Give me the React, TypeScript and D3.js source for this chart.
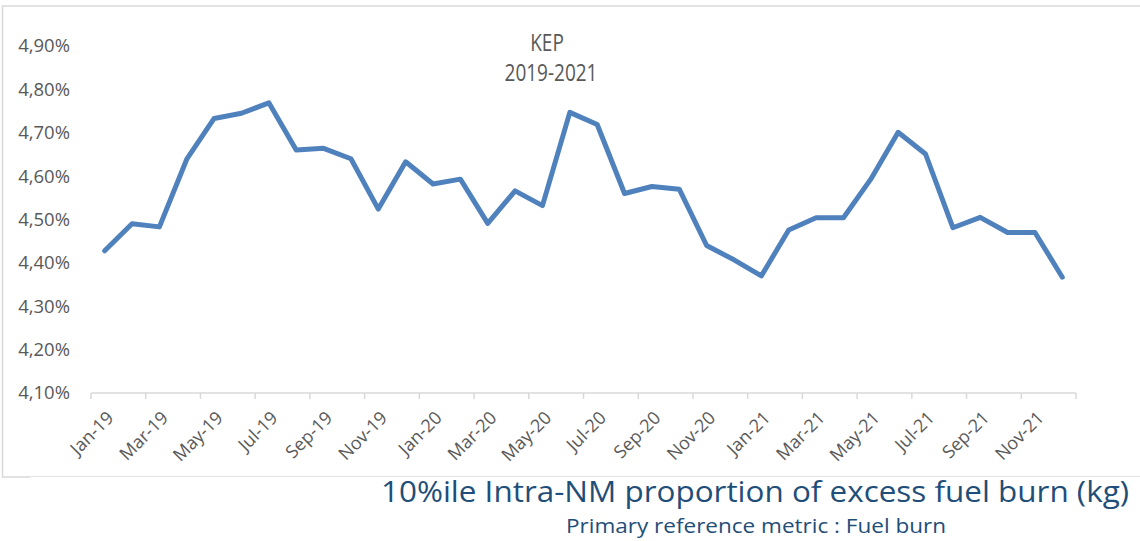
import React from "react";
import * as d3 from "d3";

const months = [
  "Jan-19","Feb-19","Mar-19","Apr-19","May-19","Jun-19","Jul-19","Aug-19","Sep-19","Oct-19","Nov-19","Dec-19",
  "Jan-20","Feb-20","Mar-20","Apr-20","May-20","Jun-20","Jul-20","Aug-20","Sep-20","Oct-20","Nov-20","Dec-20",
  "Jan-21","Feb-21","Mar-21","Apr-21","May-21","Jun-21","Jul-21","Aug-21","Sep-21","Oct-21","Nov-21","Dec-21",
];
const values = [
  4.428, 4.490, 4.483, 4.639, 4.733, 4.745, 4.769, 4.660, 4.664, 4.640, 4.524, 4.633,
  4.582, 4.593, 4.491, 4.566, 4.532, 4.747, 4.719, 4.560, 4.576, 4.570, 4.440, 4.407,
  4.370, 4.476, 4.504, 4.504, 4.593, 4.701, 4.651, 4.481, 4.505, 4.470, 4.470, 4.367,
];
const yTicks = [4.1, 4.2, 4.3, 4.4, 4.5, 4.6, 4.7, 4.8, 4.9];
const chartTitle = "KEP";
const chartSubtitle = "2019-2021";
const footerTitle = "10%ile Intra-NM proportion of excess fuel burn (kg)";
const footerSubtitle = "Primary reference metric : Fuel burn";

const W = 1140;
const H = 541;
const FONT = "'Open Sans', 'Liberation Sans', sans-serif";

export default function App() {
  const x = d3.scaleBand<string>().domain(months).range([91, 1076]).padding(0);
  const y = d3.scaleLinear().domain([4.1, 4.9]).range([393, 46]);
  const bw = x.bandwidth();
  const cx = (m: string) => (x(m) as number) + bw / 2;
  const line = d3
    .line<number>()
    .x((_, i) => cx(months[i]))
    .y((v) => y(v));
  const fmt = (v: number) => d3.format(".2f")(v).replace(".", ",") + "%";
  const tickIdx = d3.range(0, months.length + 1, 2);
  const [x0, x1] = x.range();

  return (
    <svg
      width={W}
      height={H}
      style={{ position: "absolute", left: 0, top: 0, background: "#fff" }}
      fontFamily={FONT}
    >
      <rect x={0} y={0} width={W} height={H} fill="#fff" />
      {/* chart frame */}
      <rect x={2.5} y={6} width={W + 10} height={471} fill="none" stroke="#d9d9d9" strokeWidth={1.5} />

      {/* title */}
      <g transform="translate(547,51) scale(1,1.2)">
        <text textAnchor="middle" fontSize={19} fill="#595959">{chartTitle}</text>
      </g>
      <g transform="translate(551,81) scale(1,1.2)">
        <text textAnchor="middle" fontSize={19} fill="#595959">{chartSubtitle}</text>
      </g>

      {/* y labels */}
      {yTicks.map((t) => (
        <text key={t} x={70} y={y(t)} dy="0.35em" textAnchor="end" fontSize={18.5} fill="#595959">
          {fmt(t)}
        </text>
      ))}

      {/* x axis */}
      <line x1={x0} x2={x1} y1={393} y2={393} stroke="#d9d9d9" strokeWidth={1.5} />
      {tickIdx.map((i) => (
        <line key={i} x1={x0 + i * bw} x2={x0 + i * bw} y1={393} y2={399} stroke="#d9d9d9" strokeWidth={1.5} />
      ))}
      {months.map((m, i) =>
        i % 2 === 0 ? (
          <text
            key={m}
            transform={`translate(${cx(m) + 10},${419}) rotate(-45)`}
            textAnchor="end"
            fontSize={18}
            fill="#595959"
          >
            {m}
          </text>
        ) : null
      )}

      {/* series */}
      <path d={line(values) || ""} fill="none" stroke="#4F81BD" strokeWidth={5} strokeLinejoin="round" strokeLinecap="round" />

      {/* footer */}
      <rect x={30} y={477} width={W - 30} height={H - 477} fill="#fff" />
      <text
        x={755}
        y={502}
        textAnchor="middle"
        fontSize={29}
        fill="#1F4E79"
        textLength={748}
        lengthAdjust="spacingAndGlyphs"
      >
        {footerTitle}
      </text>
      <text
        x={756}
        y={533}
        textAnchor="middle"
        fontSize={20}
        fill="#1F4E79"
        textLength={380}
        lengthAdjust="spacingAndGlyphs"
      >
        {footerSubtitle}
      </text>
    </svg>
  );
}
